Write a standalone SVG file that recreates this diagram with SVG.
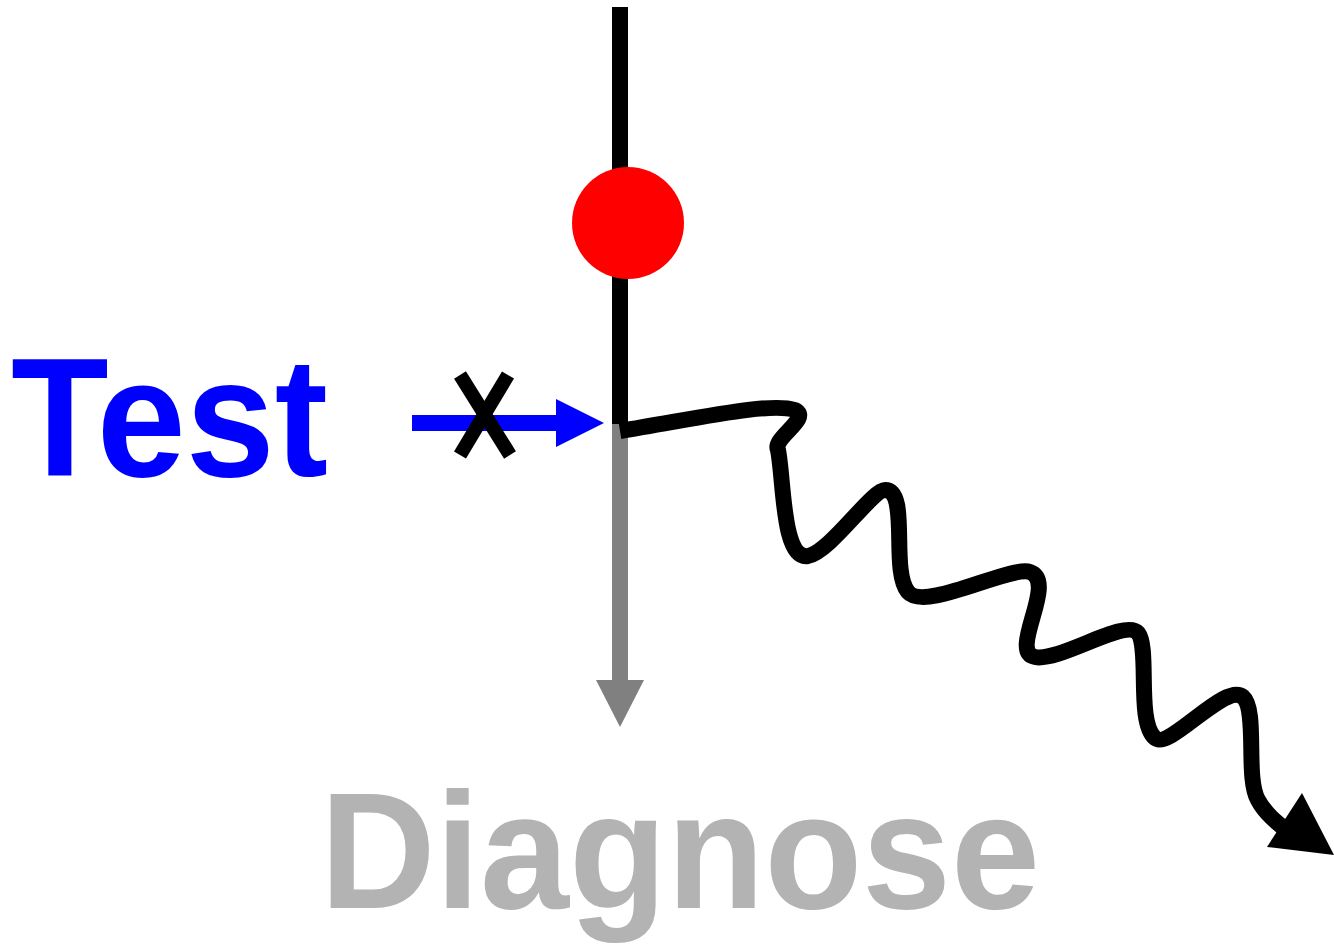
<svg xmlns="http://www.w3.org/2000/svg" width="1334" height="944" viewBox="0 0 1334 944">
<style>
.lbl{font-family:"Liberation Sans",Arial,sans-serif;font-weight:bold;font-size:160px}
</style>
<rect width="1334" height="944" fill="#fff"/>
<g id="connectors">
<line x1="620" y1="422" x2="620" y2="682" stroke="#808080" stroke-width="16"/>
<polygon points="596,680 644,680 620,727" fill="#808080"/>
<line x1="620" y1="7" x2="620" y2="424" stroke="#000" stroke-width="16"/>
<line x1="412" y1="423" x2="558" y2="423" stroke="#0000ff" stroke-width="16"/>
<polygon points="556,399 604,423 556,447" fill="#0000ff"/>
<path d="M620,431 C700,418 770,402 795,410 C812,418 772,438 778,450 C784,480 782,560 808,556 C830,552 872,490 885,490 C910,490 890,570 908,592 C925,612 1010,565 1030,572 C1058,582 1008,652 1035,657 C1060,662 1125,618 1138,633 C1150,648 1136,722 1155,738 C1170,750 1225,682 1243,697 C1258,710 1245,778 1258,800 C1266,815 1280,825 1290,833" fill="none" stroke="#000" stroke-width="16" stroke-linejoin="round"/>
<polygon points="1302,793 1334,855 1267,847" fill="#000"/>
<line x1="460" y1="375" x2="510" y2="455" stroke="#000" stroke-width="14"/>
<line x1="508" y1="375" x2="460" y2="455" stroke="#000" stroke-width="14"/>
</g>
<g id="node-event">
<circle cx="628" cy="223" r="56" fill="#ff0000"/>
</g>
<g id="node-test">
<text class="lbl" x="11" y="0" fill="#0000ff" transform="translate(0,476) scale(1,1.055)">Test</text>
</g>
<g id="node-diagnose">
<text class="lbl" x="320" y="0" fill="#b3b3b3" transform="translate(0,908) scale(1,1.036)">Diagnose</text>
</g>
</svg>
